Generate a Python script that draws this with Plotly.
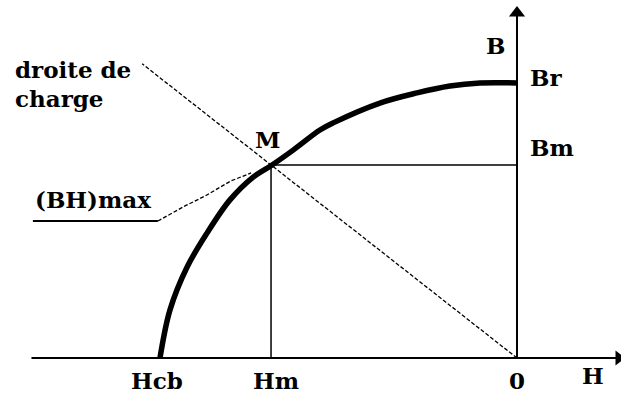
import plotly.graph_objects as go

# Demagnetisation curve (normalised units: Hcb = -1, Br = 1)
curve_H = [-1.0, -0.972, -0.924, -0.868, -0.804, -0.739, -0.686, -0.627, -0.552, -0.515, -0.384, -0.280, -0.188, -0.104, 0.0]
curve_B = [0.0, 0.175, 0.331, 0.455, 0.575, 0.658, 0.702, 0.756, 0.829, 0.855, 0.927, 0.964, 0.989, 1.0, 1.0]

Hcb = -1.0
Br = 1.0
Hm = -0.689
Bm = 0.702

# load line ("droite de charge") through origin and M
load_H = [0.0, -1.05]
load_B = [0.0, -1.05 * Bm / Hm]

# (BH)max leader
bh_solid_H = [-1.356, -1.006]
bh_solid_B = [0.498, 0.498]
bh_dash_H = [-1.006, -0.930, -0.874, -0.801, -0.745]
bh_dash_B = [0.498, 0.553, 0.589, 0.644, 0.673]

# axes extents
H_axis = [-1.36, 0.285]
B_axis = [0.0, 1.255]

FONT = dict(family="DejaVu Serif", size=23, color="black", weight="bold")

fig = go.Figure()

# axes
fig.add_trace(go.Scatter(x=H_axis, y=[0, 0], mode="lines", line=dict(color="black", width=2)))
fig.add_trace(go.Scatter(x=[0, 0], y=B_axis, mode="lines", line=dict(color="black", width=2)))
fig.add_trace(go.Scatter(x=[H_axis[1]], y=[0], mode="markers",
                         marker=dict(symbol="triangle-right", size=13, color="black")))
fig.add_trace(go.Scatter(x=[0], y=[B_axis[1]], mode="markers",
                         marker=dict(symbol="triangle-up", size=14, color="black")))

# Hm and Bm lines
fig.add_trace(go.Scatter(x=[Hm, Hm], y=[0, Bm], mode="lines", line=dict(color="black", width=1.5)))
fig.add_trace(go.Scatter(x=[Hm, 0], y=[Bm, Bm], mode="lines", line=dict(color="black", width=1.5)))

# load line
fig.add_trace(go.Scatter(x=load_H, y=load_B, mode="lines",
                         line=dict(color="black", width=1.3, dash="4px,2px")))

# (BH)max leader
fig.add_trace(go.Scatter(x=bh_solid_H, y=bh_solid_B, mode="lines", line=dict(color="black", width=2)))
fig.add_trace(go.Scatter(x=bh_dash_H, y=bh_dash_B, mode="lines",
                         line=dict(color="black", width=1.3, dash="4px,2px")))

# demag curve
fig.add_trace(go.Scatter(x=curve_H, y=curve_B, mode="lines",
                         line=dict(color="black", width=5.5, shape="spline")))

labels = [
    ("droite de", -1.412, 1.050, "left"),
    ("charge", -1.412, 0.945, "left"),
    ("(BH)max", -1.356, 0.575, "left"),
    ("M", -0.70, 0.793, "center"),
    ("B", -0.059, 1.138, "center"),
    ("Br", 0.031, 1.02, "left"),
    ("Bm", 0.031, 0.764, "left"),
    ("Hcb", -1.008, -0.083, "center"),
    ("Hm", -0.675, -0.083, "center"),
    ("0", 0.0, -0.083, "center"),
    ("H", 0.213, -0.065, "center"),
]
for txt, x, y, anc in labels:
    fig.add_annotation(x=x, y=y, text=txt, showarrow=False, xanchor=anc, yanchor="middle", font=FONT)

fig.update_layout(
    width=621, height=394,
    margin=dict(l=0, r=0, t=0, b=0),
    paper_bgcolor="white", plot_bgcolor="white",
    showlegend=False,
    xaxis=dict(range=[-517 / 357, 104 / 357], visible=False, fixedrange=True),
    yaxis=dict(range=[-36 / 275, 358 / 275], visible=False, fixedrange=True),
)

fig.write_html("out.html", config={"displayModeBar": False},
               post_script="document.body.style.margin='0';document.body.style.overflow='hidden';")
